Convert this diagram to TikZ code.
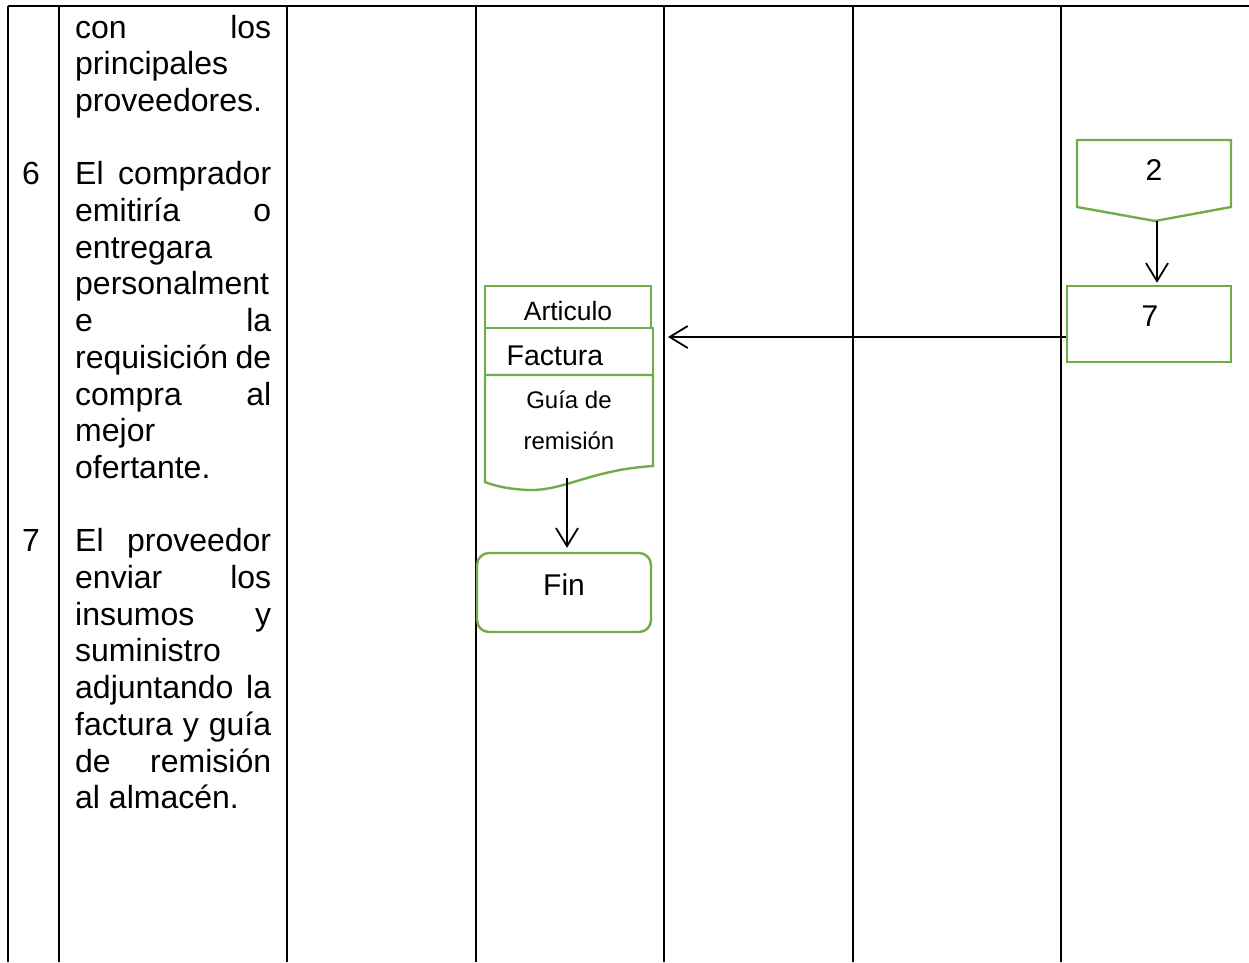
\documentclass[tikz,border=0pt]{standalone}
\usepackage{fontspec}
\setmainfont{Liberation Sans}
\usetikzlibrary{arrows.meta}
\definecolor{offgreen}{HTML}{70AD47}
\newcommand{\jline}[1]{\hbox to 196pt{#1}}
\begin{document}
\begin{tikzpicture}[x=1pt,y=-1pt,
  grid/.style={line width=2pt,black},
  gshape/.style={draw=offgreen,line width=2.4pt},
  txt/.style={anchor=base west,inner sep=0pt,font=\fontsize{32}{37}\selectfont},
  conn/.style={line width=1.8pt,-{Straight Barb[length=18pt,width=22pt,line width=1.8pt]}}]
\useasboundingbox (0,0) rectangle (1249,962);
% table lines
\draw[grid] (8,6) -- (1249,6);
\foreach \x in {8,59,287,476,664,853,1061}{\draw[grid] (\x,6) -- (\x,962);}
% text column
\node[txt] (t1) at (75,38) {\jline{con\hfill los}};
\node[txt] (t2) at (75,74.7) {principales};
\node[txt] (t3) at (75,111.4) {proveedores.};
\node[txt] (n6) at (22,184.8) {6};
\node[txt] (t4) at (75,184.8) {\jline{El\hfill comprador}};
\node[txt] (t5) at (75,221.5) {\jline{emitiría\hfill o}};
\node[txt] (t6) at (75,258.2) {entregara};
\node[txt] (t7) at (75,294.9) {personalment};
\node[txt] (t8) at (75,331.6) {\jline{e\hfill la}};
\node[txt] (t9) at (75,368.3) {\jline{requisición\hfill de}};
\node[txt] (t10) at (75,405) {\jline{compra\hfill al}};
\node[txt] (t11) at (75,441.7) {mejor};
\node[txt] (t12) at (75,478.4) {ofertante.};
\node[txt] (n7) at (22,551.8) {7};
\node[txt] (t13) at (75,551.8) {\jline{El\hfill proveedor}};
\node[txt] (t14) at (75,588.5) {\jline{enviar\hfill los}};
\node[txt] (t15) at (75,625.2) {\jline{insumos\hfill y}};
\node[txt] (t16) at (75,661.9) {suministro};
\node[txt] (t17) at (75,698.6) {\jline{adjuntando\hfill la}};
\node[txt] (t18) at (75,735.3) {\jline{factura\hfill y\hfill guía}};
\node[txt] (t19) at (75,772) {\jline{de\hfill remisión}};
\node[txt] (t20) at (75,808.7) {al almacén.};
% off-page connector 2
\draw[gshape] (1077,140) -- (1231,140) -- (1231,207) -- (1155,221) -- (1077,207) -- cycle;
\node[font=\fontsize{30}{30}\selectfont,inner sep=0pt] (c2) at (1154,170) {2};
\coordinate (c2b) at (1157,221);
% box 7
\node[gshape,minimum width=164pt,minimum height=76pt,inner sep=0pt] (b7) at (1149,324) {};
\node[font=\fontsize{30}{30}\selectfont,inner sep=0pt] (l7) at (1150,316) {7};
\draw[conn] (c2b) -- ([yshift=2pt]b7.north -| c2b);
% document stack
\draw[gshape] (485,286) rectangle (651,330);
\node[font=\fontsize{26.5}{26.5}\selectfont,inner sep=0pt] (art) at (568,311) {Articulo};
\draw[gshape,fill=white] (485,328) rectangle (653,375);
\node[font=\fontsize{28.5}{28.5}\selectfont,inner sep=0pt] (fac) at (555,356) {Factura};
\draw[gshape,fill=white] (485,375) -- (653,375) -- (653,466)
  .. controls (590,470) and (565,491) .. (528,490)
  .. controls (508,489) and (495,486) .. (485,482) -- cycle;
\node[font=\fontsize{24}{24}\selectfont,inner sep=0pt] (gu1) at (569,400) {Guía de};
\node[font=\fontsize{24}{24}\selectfont,inner sep=0pt] (gu2) at (569,441) {remisión};
\coordinate (docb) at (567,478);
\coordinate (docr) at (668,337);
\draw[conn] (b7.west |- docr) -- (docr);
% Fin
\node[gshape,rounded corners=12pt,minimum width=174pt,minimum height=79pt,inner sep=0pt] (fin) at (564,592.5) {};
\node[font=\fontsize{30}{30}\selectfont,inner sep=0pt] (fint) at (564,585) {Fin};
\draw[conn] (docb) -- ([yshift=4pt]fin.north -| docb);
\end{tikzpicture}
\end{document}
